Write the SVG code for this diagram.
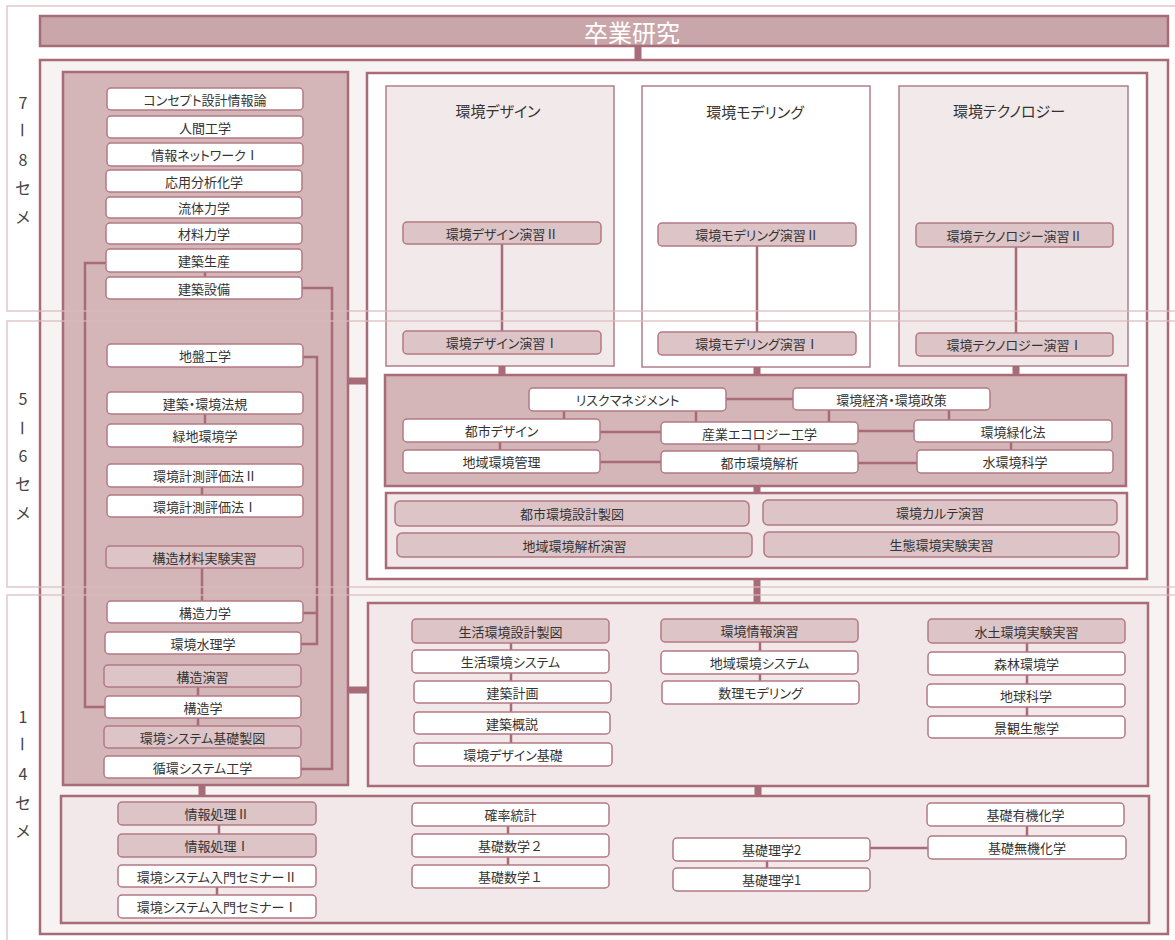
<svg xmlns="http://www.w3.org/2000/svg" width="1175" height="940" viewBox="0 0 1175 940">
<style>
.outer{fill:#f8f3f3;stroke:#a86b78;stroke-width:2.5}
.dark{fill:#d4b5b8;stroke:#a86b78;stroke-width:2.5}
.light{fill:#f2e8e9;stroke:#a86b78;stroke-width:2.5}
.wbox{fill:#ffffff;stroke:#a86b78;stroke-width:2.5}
.trk{stroke:#b07f89;stroke-width:1.5}
.trk.l{fill:#f2e9ea}
.trk.w{fill:#ffffff}
.band{fill:none;stroke:#d9b9bd;stroke-width:1.5;opacity:0.8}
.n rect{fill:#ffffff;stroke:#b27985;stroke-width:1.5}
.p rect{fill:#dcc4c7;stroke:#b27985;stroke-width:1.5}
text{font-family:"Noto Sans CJK JP","Noto Sans",sans-serif;fill:#333;text-anchor:middle;dominant-baseline:central;font-feature-settings:"palt"}
.n text,.p text{font-size:13px}
.n text.fw{font-feature-settings:normal}
.ttl{font-size:15px}
.sem{font-size:16px;fill:#444;font-feature-settings:normal}
.head{font-size:24px;fill:#ffffff}
.ln{stroke:#a86b78;stroke-width:2.5;fill:none}
.tk{stroke:#a86b78;stroke-width:7;fill:none}
</style>
<rect width="1175" height="940" fill="#ffffff"/>

<g id="header">
<rect x="40" y="16" width="1128" height="30" fill="#c9a6aa" stroke="#a86b78" stroke-width="2.5"/>
<text class="head" x="632" y="31">卒業研究</text>
</g>

<g id="containers">
<rect class="outer" x="40" y="60" width="1128" height="874"/>
<rect class="dark" x="63" y="72" width="285" height="713"/>
<rect class="wbox" x="367" y="73" width="780" height="506"/>
<rect class="trk l" x="386" y="86" width="228" height="280"/>
<rect class="trk w" x="642" y="86" width="228" height="281"/>
<rect class="trk l" x="899" y="86" width="229" height="280"/>
<rect class="dark" x="385" y="375" width="741" height="111"/>
<rect class="light" x="386" y="493" width="741" height="75"/>
<rect class="light" x="368" y="603" width="780" height="183"/>
<rect class="light" x="61" y="796" width="1088" height="127"/>
<text class="ttl" x="498" y="110">環境デザイン</text>
<text class="ttl" x="755" y="111">環境モデリング</text>
<text class="ttl" x="1009" y="110">環境テクノロジー</text>
</g>

<g id="connectors">
<path class="tk" d="M638,46V60"/>
<path class="tk" d="M348,381H367"/>
<path class="tk" d="M348,690H368"/>
<path class="tk" d="M502,366V375M757,367V375M1016,366V375"/>
<path class="tk" d="M757,486V493"/>
<path class="tk" d="M757,579V603"/>
<path class="tk" d="M758,786V796"/>
<path class="tk" d="M202,785V796"/>
<path class="ln" d="M502,244V331M757,246V332M1016,247V333"/>
<path class="ln" d="M726,399H793M564,411V419M696,411V422M829,410V422M949,410V420M600,432H661M858,431H914M500,442V450M600,462H661M759,444V451M858,463H917M1011,442V450"/>
<path class="ln" d="M205,272V277M106,263H85V707H105M302,288H332V769H301M303,357H317V644H301M303,613H317M205,414V424M202,487V495M202,568V601M198,687V696M198,718V726"/>
<path class="ln" d="M511,643V743M760,642V681M1027,643V716"/>
<path class="ln" d="M219,825V834M217,887V895M508,826V865M767,861V868M1027,826V836M870,848H928"/>
</g>

<g id="n-concept" class="n"><rect x="107" y="88" width="196" height="22" rx="4"/><text x="205" y="99">コンセプト設計情報論</text></g>
<g id="n-ningen" class="n"><rect x="107" y="116" width="196" height="22" rx="4"/><text x="205" y="127">人間工学</text></g>
<g id="n-jnet" class="n"><rect x="107" y="143" width="196" height="23" rx="4"/><text x="205" y="154.5">情報ネットワークⅠ</text></g>
<g id="n-ouyou" class="n"><rect x="106" y="170" width="196" height="22" rx="4"/><text x="204" y="181">応用分析化学</text></g>
<g id="n-ryutai" class="n"><rect x="106" y="197" width="196" height="21" rx="4"/><text x="204" y="207.5">流体力学</text></g>
<g id="n-zairyo" class="n"><rect x="106" y="223" width="196" height="21" rx="4"/><text x="204" y="233.5">材料力学</text></g>
<g id="n-kenseisan" class="n"><rect x="106" y="249" width="196" height="23" rx="4"/><text x="204" y="260.5">建築生産</text></g>
<g id="n-kensetsubi" class="n"><rect x="106" y="277" width="196" height="22" rx="4"/><text x="204" y="288">建築設備</text></g>
<g id="n-jiban" class="n"><rect x="107" y="344" width="196" height="23" rx="4"/><text x="205" y="355.5">地盤工学</text></g>
<g id="n-hoki" class="n"><rect x="107" y="392" width="196" height="22" rx="4"/><text x="205" y="403">建築・環境法規</text></g>
<g id="n-ryokuchi" class="n"><rect x="107" y="424" width="196" height="23" rx="4"/><text x="205" y="435.5">緑地環境学</text></g>
<g id="n-keisoku2" class="n"><rect x="107" y="464" width="196" height="23" rx="4"/><text x="205" y="475.5">環境計測評価法Ⅱ</text></g>
<g id="n-keisoku1" class="n"><rect x="107" y="495" width="196" height="22" rx="4"/><text x="205" y="506">環境計測評価法Ⅰ</text></g>
<g id="n-kozai" class="p"><rect x="106" y="546" width="197" height="22" rx="4"/><text x="204.5" y="557">構造材料実験実習</text></g>
<g id="n-kozorikigaku" class="n"><rect x="107" y="601" width="196" height="22" rx="4"/><text x="205" y="612">構造力学</text></g>
<g id="n-suiri" class="n"><rect x="105" y="632" width="196" height="22" rx="4"/><text x="203" y="643">環境水理学</text></g>
<g id="n-kozoenshu" class="p"><rect x="104" y="665" width="197" height="22" rx="4"/><text x="202.5" y="676">構造演習</text></g>
<g id="n-kozogaku" class="n"><rect x="105" y="696" width="196" height="22" rx="4"/><text x="203" y="707">構造学</text></g>
<g id="n-kisoseizu" class="p"><rect x="104" y="726" width="197" height="22" rx="4"/><text x="202.5" y="737">環境システム基礎製図</text></g>
<g id="n-junkan" class="n"><rect x="104" y="756" width="197" height="22" rx="4"/><text x="202.5" y="767">循環システム工学</text></g>

<g id="n-design2" class="p"><rect x="403" y="222" width="198" height="22" rx="4"/><text x="502" y="233">環境デザイン演習Ⅱ</text></g>
<g id="n-design1" class="p"><rect x="403" y="331" width="198" height="23" rx="4"/><text x="502" y="342.5">環境デザイン演習Ⅰ</text></g>
<g id="n-model2" class="p"><rect x="658" y="223" width="198" height="23" rx="4"/><text x="757" y="234.5">環境モデリング演習Ⅱ</text></g>
<g id="n-model1" class="p"><rect x="658" y="332" width="198" height="23" rx="4"/><text x="757" y="343.5">環境モデリング演習Ⅰ</text></g>
<g id="n-tech2" class="p"><rect x="916" y="223" width="197" height="24" rx="4"/><text x="1014.5" y="235">環境テクノロジー演習Ⅱ</text></g>
<g id="n-tech1" class="p"><rect x="916" y="333" width="197" height="23" rx="4"/><text x="1014.5" y="344.5">環境テクノロジー演習Ⅰ</text></g>

<g id="n-risk" class="n"><rect x="529" y="388" width="197" height="23" rx="4"/><text x="627.5" y="399.5">リスクマネジメント</text></g>
<g id="n-keizai" class="n"><rect x="793" y="388" width="197" height="22" rx="4"/><text x="891.5" y="399">環境経済・環境政策</text></g>
<g id="n-toshidesign" class="n"><rect x="403" y="419" width="197" height="23" rx="4"/><text x="501.5" y="430.5">都市デザイン</text></g>
<g id="n-sangyo" class="n"><rect x="661" y="422" width="197" height="22" rx="4"/><text x="759.5" y="433">産業エコロジー工学</text></g>
<g id="n-ryokka" class="n"><rect x="914" y="420" width="198" height="22" rx="4"/><text x="1013" y="431">環境緑化法</text></g>
<g id="n-chiikikanri" class="n"><rect x="403" y="450" width="197" height="23" rx="4"/><text x="501.5" y="461.5">地域環境管理</text></g>
<g id="n-toshikaiseki" class="n"><rect x="661" y="451" width="197" height="22" rx="4"/><text x="759.5" y="462">都市環境解析</text></g>
<g id="n-mizu" class="n"><rect x="917" y="450" width="196" height="23" rx="4"/><text x="1015" y="461.5">水環境科学</text></g>

<g id="n-toshiseizu" class="p"><rect x="395" y="501" width="354" height="25" rx="5"/><text x="572" y="513.5">都市環境設計製図</text></g>
<g id="n-chiikienshu" class="p"><rect x="397" y="533" width="355" height="24" rx="5"/><text x="574.5" y="545">地域環境解析演習</text></g>
<g id="n-karte" class="p"><rect x="763" y="500" width="354" height="25" rx="5"/><text x="940" y="512.5">環境カルテ演習</text></g>
<g id="n-seitai" class="p"><rect x="764" y="532" width="355" height="25" rx="5"/><text x="941.5" y="544.5">生態環境実験実習</text></g>

<g id="n-seikatsuseizu" class="p"><rect x="412" y="619" width="197" height="24" rx="4"/><text x="510.5" y="631">生活環境設計製図</text></g>
<g id="n-seikatsusys" class="n"><rect x="412" y="650" width="197" height="23" rx="4"/><text x="510.5" y="661.5">生活環境システム</text></g>
<g id="n-kenkeikaku" class="n"><rect x="414" y="681" width="197" height="22" rx="4"/><text x="512.5" y="692">建築計画</text></g>
<g id="n-kengaisetsu" class="n"><rect x="414" y="712" width="196" height="22" rx="4"/><text x="512" y="723">建築概説</text></g>
<g id="n-designkiso" class="n"><rect x="414" y="743" width="198" height="23" rx="4"/><text x="513" y="754.5">環境デザイン基礎</text></g>
<g id="n-johoenshu" class="p"><rect x="661" y="619" width="197" height="23" rx="4"/><text x="759.5" y="630.5">環境情報演習</text></g>
<g id="n-chiikisys" class="n"><rect x="661" y="651" width="197" height="23" rx="4"/><text x="759.5" y="662.5">地域環境システム</text></g>
<g id="n-suuri" class="n"><rect x="662" y="681" width="197" height="23" rx="4"/><text x="760.5" y="692.5">数理モデリング</text></g>
<g id="n-suido" class="p"><rect x="928" y="619" width="197" height="24" rx="4"/><text x="1026.5" y="631">水土環境実験実習</text></g>
<g id="n-shinrin" class="n"><rect x="928" y="652" width="197" height="23" rx="4"/><text x="1026.5" y="663.5">森林環境学</text></g>
<g id="n-chikyu" class="n"><rect x="927" y="684" width="198" height="23" rx="4"/><text x="1026" y="695.5">地球科学</text></g>
<g id="n-keikan" class="n"><rect x="928" y="716" width="197" height="22" rx="4"/><text x="1026.5" y="727">景観生態学</text></g>

<g id="n-joho2" class="p"><rect x="118" y="802" width="198" height="23" rx="4"/><text x="217" y="813.5">情報処理Ⅱ</text></g>
<g id="n-joho1" class="p"><rect x="118" y="834" width="198" height="23" rx="4"/><text x="217" y="845.5">情報処理Ⅰ</text></g>
<g id="n-seminar2" class="n"><rect x="118" y="865" width="198" height="22" rx="4"/><text x="217" y="876">環境システム入門セミナーⅡ</text></g>
<g id="n-seminar1" class="n"><rect x="118" y="895" width="198" height="23" rx="4"/><text x="217" y="906.5">環境システム入門セミナーⅠ</text></g>
<g id="n-kakuritsu" class="n"><rect x="412" y="803" width="197" height="23" rx="4"/><text x="510.5" y="814.5">確率統計</text></g>
<g id="n-sugaku2" class="n"><rect x="412" y="834" width="197" height="23" rx="4"/><text class="fw" x="510.5" y="845.5">基礎数学２</text></g>
<g id="n-sugaku1" class="n"><rect x="412" y="865" width="197" height="23" rx="4"/><text class="fw" x="510.5" y="876.5">基礎数学１</text></g>
<g id="n-rigaku2" class="n"><rect x="673" y="838" width="197" height="23" rx="4"/><text x="771.5" y="849.5">基礎理学2</text></g>
<g id="n-rigaku1" class="n"><rect x="673" y="868" width="197" height="23" rx="4"/><text x="771.5" y="879.5">基礎理学1</text></g>
<g id="n-yuki" class="n"><rect x="927" y="803" width="197" height="23" rx="4"/><text x="1025.5" y="814.5">基礎有機化学</text></g>
<g id="n-muki" class="n"><rect x="928" y="836" width="198" height="23" rx="4"/><text x="1027" y="847.5">基礎無機化学</text></g>

<g id="semesters">
<rect class="band" x="7" y="6" width="1180" height="305"/>
<rect class="band" x="7" y="321" width="1180" height="266"/>
<rect class="band" x="7" y="595" width="1180" height="360"/>
<text class="sem" x="23" y="102">7</text>
<text class="sem" transform="translate(23,130) rotate(90)">ー</text>
<text class="sem" x="23" y="159">8</text>
<text class="sem" x="23" y="187">セ</text>
<text class="sem" x="23" y="216">メ</text>
<text class="sem" x="23" y="398">5</text>
<text class="sem" transform="translate(23,428) rotate(90)">ー</text>
<text class="sem" x="23" y="455">6</text>
<text class="sem" x="23" y="483">セ</text>
<text class="sem" x="23" y="512">メ</text>
<text class="sem" x="23" y="716">1</text>
<text class="sem" transform="translate(23,744) rotate(90)">ー</text>
<text class="sem" x="23" y="773">4</text>
<text class="sem" x="23" y="802">セ</text>
<text class="sem" x="23" y="830">メ</text>
</g>
</svg>
